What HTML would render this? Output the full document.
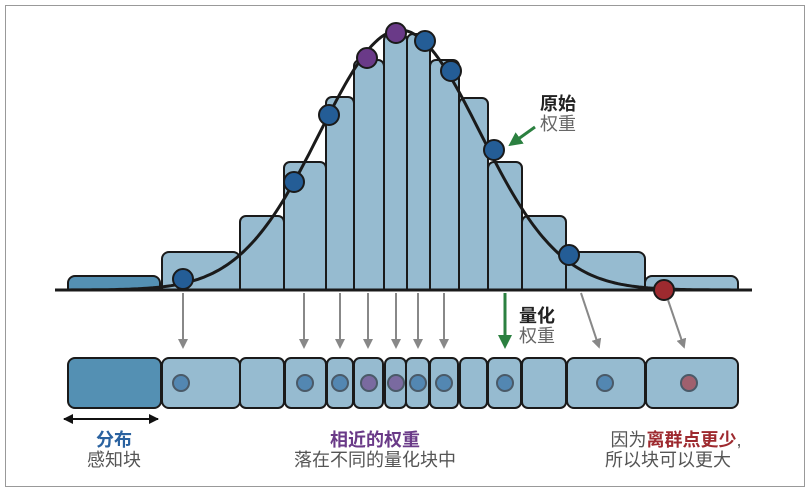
<!DOCTYPE html>
<html><head><meta charset="utf-8"><style>
body{margin:0;background:#fff;}
svg{display:block;}
text{font-family:"Liberation Sans","Noto Sans CJK SC",sans-serif;font-size:18px;}
</style></head><body>
<svg width="810" height="493" viewBox="0 0 810 493" xmlns="http://www.w3.org/2000/svg">
<defs>
<marker id="ag" markerWidth="10" markerHeight="10" refX="5" refY="5" orient="auto" markerUnits="userSpaceOnUse"><path d="M0,0 L10,5 L0,10 Z" fill="#888"/></marker>
<marker id="agr" markerWidth="14" markerHeight="14" refX="7" refY="7" orient="auto" markerUnits="userSpaceOnUse"><path d="M0,0 L14,7 L0,14 Z" fill="#2b8040"/></marker>
<marker id="ak" markerWidth="10" markerHeight="10" refX="9" refY="5" orient="auto-start-reverse" markerUnits="userSpaceOnUse"><path d="M0,0 L10,5 L0,10 Z" fill="#111"/></marker>
</defs>
<rect x="5.5" y="5.5" width="799" height="481" fill="#fff" stroke="#999" stroke-width="1"/>
<g stroke="#1a1a1a" stroke-width="2" fill="#96bbd0">
<rect x="68" y="276" width="92" height="20" rx="7" fill="#5490b3"/>
<rect x="162" y="252" width="78" height="44" rx="7"/>
<rect x="240" y="216" width="44" height="80" rx="6"/>
<rect x="284" y="162" width="42" height="134" rx="6"/>
<rect x="326" y="97" width="28" height="199" rx="6"/>
<rect x="354" y="60" width="30" height="236" rx="6"/>
<rect x="384" y="34" width="23" height="262" rx="6"/>
<rect x="407" y="34" width="23" height="262" rx="6"/>
<rect x="430" y="60" width="29" height="236" rx="6"/>
<rect x="459" y="98" width="29" height="198" rx="6"/>
<rect x="488" y="162" width="34" height="134" rx="6"/>
<rect x="522" y="216" width="44" height="80" rx="6"/>
<rect x="566" y="252" width="79" height="44" rx="7"/>
<rect x="645" y="276" width="93" height="20" rx="7"/>
</g>
<rect x="50" y="291" width="710" height="10" fill="#fff"/>
<path id="curve" d="" fill="none" stroke="#1a1a1a" stroke-width="3"/>
<line x1="55" y1="290" x2="752" y2="290" stroke="#1a1a1a" stroke-width="3"/>
<g stroke="#1a1a1a" stroke-width="2">
<circle cx="183" cy="279" r="10" fill="#245d96"/>
<circle cx="294" cy="182" r="10" fill="#245d96"/>
<circle cx="329" cy="115" r="10" fill="#245d96"/>
<circle cx="367" cy="58" r="10" fill="#6a3a88"/>
<circle cx="396" cy="33" r="10" fill="#6a3a88"/>
<circle cx="425" cy="41" r="10" fill="#245d96"/>
<circle cx="451" cy="71" r="10" fill="#245d96"/>
<circle cx="494" cy="150" r="10" fill="#245d96"/>
<circle cx="569" cy="255" r="10" fill="#245d96"/>
<circle cx="664" cy="290" r="10" fill="#9e2a2f"/>
</g>
<g stroke="#888" stroke-width="2" marker-end="url(#ag)">
<line x1="183" y1="293" x2="183" y2="344"/>
<line x1="304" y1="293" x2="304" y2="344"/>
<line x1="340" y1="293" x2="340" y2="344"/>
<line x1="368" y1="293" x2="368" y2="344"/>
<line x1="396" y1="293" x2="396" y2="344"/>
<line x1="418" y1="293" x2="418" y2="344"/>
<line x1="444" y1="293" x2="444" y2="344"/>
<line x1="581" y1="293" x2="598" y2="344"/>
<line x1="668" y1="300" x2="683" y2="344"/>
</g>
<line x1="505" y1="293" x2="505" y2="342" stroke="#2b8040" stroke-width="3" marker-end="url(#agr)"/>
<line x1="535" y1="127" x2="514" y2="142" stroke="#2b8040" stroke-width="3" marker-end="url(#agr)"/>
<g stroke="#1a1a1a" stroke-width="2" fill="#96bbd0">
<rect x="68" y="358" width="93" height="50" rx="7" fill="#5490b3"/>
<rect x="162" y="358" width="78" height="50" rx="7"/>
<rect x="240" y="358" width="44" height="50" rx="6"/>
<rect x="285" y="358" width="41" height="50" rx="6"/>
<rect x="327" y="358" width="26" height="50" rx="6"/>
<rect x="354" y="358" width="29" height="50" rx="6"/>
<rect x="385" y="358" width="21" height="50" rx="6"/>
<rect x="406" y="358" width="23" height="50" rx="6"/>
<rect x="430" y="358" width="28" height="50" rx="6"/>
<rect x="460" y="358" width="27" height="50" rx="6"/>
<rect x="488" y="358" width="33" height="50" rx="6"/>
<rect x="522" y="358" width="44" height="50" rx="6"/>
<rect x="567" y="358" width="78" height="50" rx="7"/>
<rect x="646" y="358" width="92" height="50" rx="7"/>
</g>
<g stroke="#4a5a68" stroke-width="2">
<circle cx="181" cy="383" r="8" fill="#5387b2"/>
<circle cx="305" cy="383" r="8" fill="#5387b2"/>
<circle cx="340" cy="383" r="8" fill="#5387b2"/>
<circle cx="369" cy="383" r="8" fill="#7a6aa0"/>
<circle cx="396" cy="383" r="8" fill="#7a6aa0"/>
<circle cx="418" cy="383" r="8" fill="#5387b2"/>
<circle cx="444" cy="383" r="8" fill="#5387b2"/>
<circle cx="505" cy="383" r="8" fill="#5387b2"/>
<circle cx="605" cy="383" r="8" fill="#5387b2"/>
<circle cx="689" cy="383" r="8" fill="#a0606e"/>
</g>
<line x1="64" y1="419" x2="158" y2="419" stroke="#111" stroke-width="2" marker-start="url(#ak)" marker-end="url(#ak)"/>
<text x="540" y="110" font-weight="bold" fill="#222">原始</text>
<text x="540" y="130" fill="#666">权重</text>
<text x="519" y="322" font-weight="bold" fill="#222">量化</text>
<text x="519" y="342" fill="#666">权重</text>
<g text-anchor="middle">
<text x="114" y="446" font-weight="bold" fill="#2a62a0">分布</text>
<text x="114" y="466" fill="#555">感知块</text>
<text x="375" y="446" font-weight="bold" fill="#6a3a88">相近的权重</text>
<text x="375" y="466" fill="#555">落在不同的量化块中</text>
<text x="676" y="446" fill="#555">因为<tspan fill="#9e2a2f" font-weight="bold">离群点更少</tspan>,</text>
<text x="668" y="466" fill="#555">所以块可以更大</text>
</g>
<script>
var d="",s=80;for(var x=60;x<=745;x+=3){var y=290-260*Math.exp(-(x-400)*(x-400)/(2*s*s));d+=(x==60?"M":"L")+x+","+y.toFixed(1)+" ";}
document.getElementById("curve").setAttribute("d",d);
</script>
</svg>
</body></html>
